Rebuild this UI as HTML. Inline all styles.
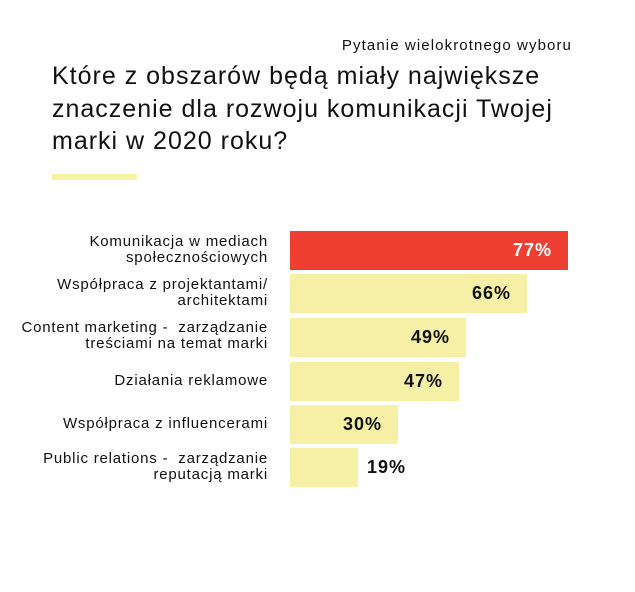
<!DOCTYPE html>
<html><head><meta charset="utf-8"><style>
body{margin:0;width:635px;height:592px;background:#fff;font-family:"Liberation Sans","DejaVu Sans",sans-serif;position:relative;overflow:hidden;color:#111}
.sub{position:absolute;right:63px;top:37px;font-size:15px;letter-spacing:1.1px;white-space:nowrap}
.t{position:absolute;left:52px;top:60px;font-size:25px;line-height:32.5px;letter-spacing:1px;white-space:nowrap}
.ul{position:absolute;left:52px;top:174px;width:85px;height:6px;background:#f7f3a5}
.bar{position:absolute;left:290px;height:39px;background:#f5f0a5;font-weight:bold;font-size:18px;letter-spacing:1px;line-height:39px}
.bar span{position:absolute;right:16px}
.lab{position:absolute;right:367px;font-size:15px;letter-spacing:0.8px;line-height:16px;text-align:right;width:290px;white-space:nowrap}
</style></head><body>
<div class="sub">Pytanie wielokrotnego wyboru</div>
<div class="t">Które z obszarów będą miały największe<br>znaczenie dla rozwoju komunikacji Twojej<br>marki w 2020 roku?</div>
<div class="ul"></div>
<div class="bar" style="top:231px;width:278px;background:#ef3e32;color:#fff"><span>77%</span></div>
<div class="bar" style="top:274px;width:237px"><span>66%</span></div>
<div class="bar" style="top:318px;width:176px"><span>49%</span></div>
<div class="bar" style="top:362px;width:169px"><span>47%</span></div>
<div class="bar" style="top:405px;width:108px"><span>30%</span></div>
<div class="bar" style="top:448px;width:68px"><span style="right:-48px">19%</span></div>
<div class="lab" style="top:234px">Komunikacja w mediach<br>społecznościowych</div>
<div class="lab" style="top:277px">Współpraca z projektantami/<br>architektami</div>
<div class="lab" style="top:320px">Content marketing -&nbsp; zarządzanie<br>treściami na temat marki</div>
<div class="lab" style="top:373px">Działania reklamowe</div>
<div class="lab" style="top:416px">Współpraca z influencerami</div>
<div class="lab" style="top:451px">Public relations -&nbsp; zarządzanie<br>reputacją marki</div>
</body></html>
